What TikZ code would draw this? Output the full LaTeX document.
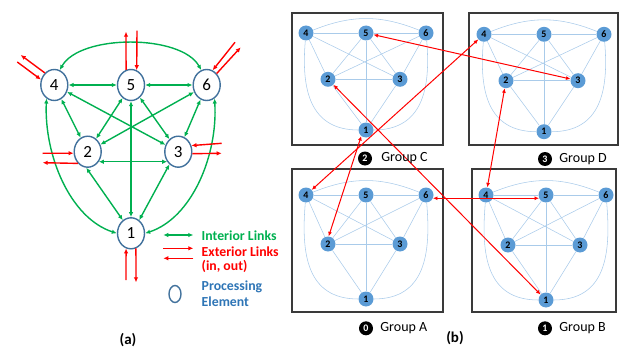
\documentclass[tikz,border=0pt]{standalone}
\usepackage{fontspec}
\setmainfont{Carlito}
\usetikzlibrary{arrows.meta,shapes.geometric}
\definecolor{linkgreen}{HTML}{00B050}
\definecolor{linkred}{HTML}{FF0000}
\definecolor{peedge}{HTML}{41719C}
\definecolor{petext}{HTML}{2E75B6}
\definecolor{pefill}{HTML}{5B9BD5}
\definecolor{meshline}{HTML}{A9CBEA}
\definecolor{framegray}{HTML}{3A3A3A}

% one group of six processing elements, fully connected
% #1 name prefix, #2 x of element 5, #3 top row y, #4 middle row y, #5 bottom y
\newcommand\meshgroup[5]{%
  \node[gpe] (#1-4) at ({#2-60},#3) {4};
  \node[gpe] (#1-5) at (#2,#3) {5};
  \node[gpe] (#1-6) at ({#2+60},#3) {6};
  \node[gpe] (#1-2) at ({#2-38},#4) {2};
  \node[gpe] (#1-3) at ({#2+34},#4) {3};
  \node[gpe] (#1-1) at (#2,#5) {1};
  \draw[mesh] (#1-4) -- (#1-5) -- (#1-6);
  \draw[mesh] (#1-4) to[out=22,in=158] (#1-6);
  \draw[mesh] (#1-4) to[out=-95,in=180,looseness=1.2] (#1-1);
  \draw[mesh] (#1-6) to[out=-85,in=0,looseness=1.2] (#1-1);
  \draw[mesh] (#1-4) -- (#1-2);
  \draw[mesh] (#1-4) -- (#1-3);
  \draw[mesh] (#1-5) -- (#1-2);
  \draw[mesh] (#1-5) -- (#1-3);
  \draw[mesh] (#1-5) -- (#1-1);
  \draw[mesh] (#1-6) -- (#1-2);
  \draw[mesh] (#1-6) -- (#1-3);
  \draw[mesh] (#1-2) -- (#1-3);
  \draw[mesh] (#1-2) -- (#1-1);
  \draw[mesh] (#1-3) -- (#1-1);
}

\begin{document}
\begin{tikzpicture}[x=1pt,y=1pt,
  pe/.style={ellipse, draw=peedge, line width=1.4pt, fill=white,
    minimum width=27pt, minimum height=31pt, inner sep=0pt,
    font=\fontsize{17}{17}\selectfont},
  inlink/.style={linkgreen, line width=1.4pt,
    {Latex[length=5pt,width=4.5pt]}-{Latex[length=5pt,width=4.5pt]}},
  exlink/.style={linkred, line width=1.4pt, -{Latex[length=5pt,width=4.5pt]}},
  gpe/.style={circle, fill=pefill, minimum size=15pt, inner sep=0pt,
    font=\fontsize{10}{10}\selectfont\bfseries, text=black},
  mesh/.style={meshline, line width=0.55pt},
  xlink/.style={linkred, line width=1pt,
    {Latex[length=4.5pt,width=4pt]}-{Latex[length=4.5pt,width=4pt]}},
  frame/.style={draw=framegray, line width=1.1pt},
  badge/.style={circle, fill=black, minimum size=14pt, inner sep=0pt,
    text=white, font=\fontsize{10}{10}\selectfont\bfseries},
  grouplabel/.style={anchor=west, inner sep=0pt, font=\fontsize{14}{14}\selectfont},
  legend/.style={anchor=west, inner sep=0pt, font=\fontsize{13.8}{14}\selectfont\bfseries},
  caption/.style={inner sep=0pt, font=\fontsize{15}{15}\selectfont\bfseries},
]
\useasboundingbox (0,0) rectangle (622,349);

% ---------------- (a) single group ----------------
\node[pe] (n4) at (54.3,264) {4};
\node[pe] (n5) at (131,264) {5};
\node[pe] (n6) at (206.7,264) {6};
\node[pe] (n2) at (87.7,197.3) {2};
\node[pe] (n3) at (178.3,197.3) {3};
\node[pe] (n1) at (131,115.7) {1};

% interior links
\draw[inlink] (n4) -- (n5);
\draw[inlink] (n5) -- (n6);
\draw[inlink] (n4.70) .. controls (80,315) and (181,315) .. (n6.110);
\draw[inlink] (n4.240) .. controls (44,194) and (70,131) .. (n1.west);
\draw[inlink] (n6.300) .. controls (218,194) and (192,131) .. (n1.east);
\draw[inlink] (n4) -- (n2);
\draw[inlink] (n4) -- (n3);
\draw[inlink] (n5) -- (n2);
\draw[inlink] (n5) -- (n3);
\draw[inlink] (n5) -- (n1);
\draw[inlink] (n6) -- (n2);
\draw[inlink] (n6) -- (n3);
\draw[inlink] (n2.-42) -- (n3.-138);
\draw[inlink] (n2.-95) -- (n1.122);
\draw[inlink] (n3.235) -- (n1.58);

% exterior links (in, out)
\coordinate (e4o) at (20.7,294);   \coordinate (e4i) at (17.3,287);
\coordinate (e5o) at (126,317.3);  \coordinate (e5i) at (137,318.3);
\coordinate (e6i) at (235,306.7);  \coordinate (e6o) at (240.7,301.7);
\coordinate (e3i) at (221.7,205.7); \coordinate (e3o) at (221.7,195.7);
\coordinate (e2i) at (42.7,195.7); \coordinate (e2o) at (42.7,186.3);
\coordinate (e1i) at (126,69);     \coordinate (e1o) at (136,66.7);
\draw[exlink] (n4.128) -- (e4o);
\draw[exlink] (e4i) -- (n4.158);
\draw[exlink] (n5.108) -- (e5o);
\draw[exlink] (e5i) -- (n5.69);
\draw[exlink] (e6i) -- (n6.68);
\draw[exlink] (n6.49) -- (e6o);
\draw[exlink] (e3i) -- (n3.25);
\draw[exlink] (n3.-8) -- (e3o);
\draw[exlink] (e2i) -- (n2.186);
\draw[exlink] (n2.230) -- (e2o);
\draw[exlink] (e1i) -- (n1.252);
\draw[exlink] (n1.288) -- (e1o);

% legend
\coordinate (lga) at (163.3,114);  \coordinate (lgb) at (193.3,114);
\coordinate (lgc) at (163.3,100.7); \coordinate (lgd) at (193.3,100.7);
\coordinate (lge) at (193.3,90.7); \coordinate (lgf) at (163.3,90.7);
\draw[inlink] (lga) -- (lgb);
\draw[exlink] (lgc) -- (lgd);
\draw[exlink] (lge) -- (lgf);
\node[legend, text=linkgreen] (tint) at (201.5,113) {Interior Links};
\node[legend, text=linkred] (text1) at (201.5,97.3) {Exterior Links};
\node[legend, text=linkred] (text2) at (201.5,82.3) {(in, out)};
\node[ellipse, draw=peedge, line width=1.4pt, minimum width=12pt,
  minimum height=17pt, inner sep=0pt] (lgpe) at (175,55) {};
\node[legend, text=petext] (tpe1) at (201.5,62.3) {Processing};
\node[legend, text=petext] (tpe2) at (201.5,47.3) {Element};

\node[caption] (capa) at (128,9) {(a)};

% ---------------- (b) four groups ----------------
\draw[frame] (292,204) rectangle (443,336);
\draw[frame] (469,204) rectangle (618,336);
\draw[frame] (292,37) rectangle (443,180);
\draw[frame] (472,37) rectangle (616,180);

\meshgroup{c}{366}{316}{269.7}{219}
\meshgroup{d}{544}{314.7}{268.3}{217.3}
\meshgroup{a}{366}{154}{105}{50}
\meshgroup{b}{546}{154}{104}{49}

% links between groups
\draw[xlink] (c-5) -- (d-3);
\draw[xlink] (a-4) -- (d-4);
\draw[xlink] (c-1.232) -- (a-2.85);
\draw[xlink] (c-2) -- (b-1);
\draw[xlink] (a-6.-25) -- (b-5.205);
\draw[xlink] (d-2) -- (b-4);

% group captions
\node[badge] (bgc) at (365,190.5) {2};
\node[grouplabel] (lgc2) at ([xshift=9pt]bgc.east) {Group C};
\node[badge] (bgd) at (545,190) {3};
\node[grouplabel] (lgd2) at ([xshift=7pt]bgd.east) {Group D};
\node[badge] (bga) at (366,20.7) {0};
\node[grouplabel] (lga2) at ([xshift=7pt]bga.east) {Group A};
\node[badge] (bgb) at (545,20.7) {1};
\node[grouplabel] (lgb2) at ([xshift=7pt]bgb.east) {Group B};

\node[caption] (capb) at (455,11) {(b)};
\end{tikzpicture}
\end{document}
